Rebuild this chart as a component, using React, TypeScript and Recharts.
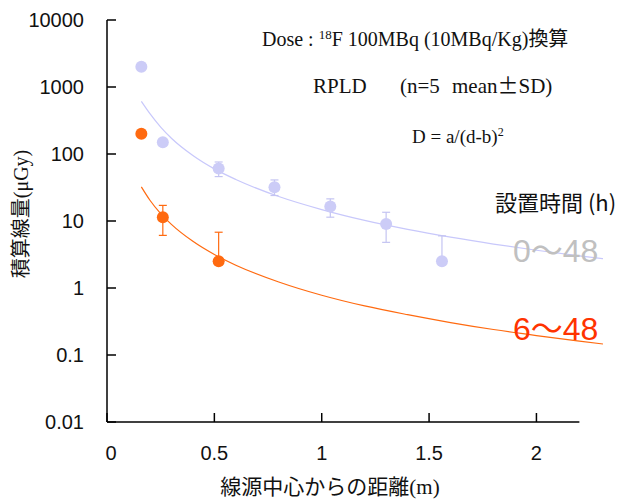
import React from "react"
import { ComposedChart, XAxis, YAxis, Line, Scatter, ErrorBar, ReferenceLine } from "recharts"

// measured points (distance in m, integrated dose in µGy)
const distBlue = [0.16, 0.26, 0.52, 0.78, 1.04, 1.3, 1.56]
const doseBlue = [2000, 150, 61, 32, 16.4, 9.0, 2.5]
const errBlueLow = [0, 0, 15, 8, 5, 4.2, 0]
const errBlueHigh = [0, 0, 15, 9, 5, 4.5, 3.5]

const distOrange = [0.16, 0.26, 0.52]
const doseOrange = [200, 11.4, 2.5]
const errOrangeLow = [0, 5.3, 0]
const errOrangeHigh = [0, 5.7, 4.3]

// fitted curves D = a/(d-b)^2
const fitDist = [0.16, 0.2, 0.25, 0.3, 0.4, 0.5, 0.6, 0.8, 1.0, 1.2, 1.4, 1.6, 1.8, 2.0, 2.2, 2.31]
const fitBlue = [610, 400, 252, 172, 95, 60, 41.7, 23.2, 14.8, 10.2, 7.5, 5.74, 4.53, 3.66, 3.02, 2.74]
const fitOrange = [32.3, 20.4, 12.9, 8.9, 4.97, 3.16, 2.19, 1.23, 0.78, 0.54, 0.4, 0.305, 0.24, 0.195, 0.161, 0.146]

const xTicks = [0, 0.5, 1, 1.5, 2]
const yTicks = [0.01, 0.1, 1, 10, 100, 1000, 10000]

const blueData = distBlue.map((x, i) => ({ x, y: doseBlue[i], err: [errBlueLow[i], errBlueHigh[i]] }))
const orangeData = distOrange.map((x, i) => ({ x, y: doseOrange[i], err: [errOrangeLow[i], errOrangeHigh[i]] }))
const blueFit = fitDist.map((x, i) => ({ x, y: fitBlue[i] }))
const orangeFit = fitDist.map((x, i) => ({ x, y: fitOrange[i] }))

const sans = "'Liberation Sans', Arial, 'Noto Sans CJK JP', sans-serif"
const serif = "'Liberation Serif', 'Times New Roman', 'Noto Sans CJK JP', serif"
const jp = "'Noto Sans CJK JP', sans-serif"

const XTick = (p: any) => (
    <g>
        <line x1={p.x} y1={p.y} x2={p.x} y2={p.y - 9} stroke="#000" strokeWidth={1.5} />
        <text x={p.x + (p.payload.value === 0 ? 4 : 0)} y={p.y + 31} textAnchor="middle" dominantBaseline="central" fontSize={20} fontFamily={sans} fill="#111">
            {p.payload.value}
        </text>
    </g>
)

const YTick = (p: any) => (
    <g>
        <line x1={p.x} y1={p.y} x2={p.x + 9} y2={p.y} stroke="#000" strokeWidth={1.5} />
        <text x={p.x - 23} y={p.y} textAnchor="end" dominantBaseline="central" fontSize={20} fontFamily={sans} fill="#111">
            {p.payload.value}
        </text>
    </g>
)

const Dot = (color: string) => (p: any) => <circle cx={p.cx} cy={p.cy} r={6} fill={color} />

export default function App() {
    return (
        <div style={{ position: "absolute", left: 0, top: 0, width: 624, height: 499, background: "#fff" }}>
            <ComposedChart width={624} height={499} margin={{ top: 20, right: 21, bottom: 0, left: 0 }}>
                <XAxis
                    dataKey="x"
                    type="number"
                    domain={[0, 2.31]}
                    ticks={xTicks}
                    allowDataOverflow
                    axisLine={false}
                    tickLine={false}
                    tickSize={0}
                    tickMargin={0}
                    height={77}
                    tick={XTick}
                />
                <YAxis
                    dataKey="y"
                    scale="log"
                    domain={[0.01, 10000]}
                    ticks={yTicks}
                    allowDataOverflow
                    axisLine={{ stroke: "#000", strokeWidth: 1.5 }}
                    tickLine={false}
                    tickSize={0}
                    tickMargin={0}
                    width={107}
                    tick={YTick}
                />
                <ReferenceLine segment={[{ x: 0, y: 0.01 }, { x: 2.2, y: 0.01 }]} stroke="#000" strokeWidth={1.5} />
                <Line data={blueFit} dataKey="y" type="monotone" stroke="#c8c8fb" strokeWidth={1.2} dot={false} isAnimationActive={false} />
                <Line data={orangeFit} dataKey="y" type="monotone" stroke="#ff6a10" strokeWidth={1.2} dot={false} isAnimationActive={false} />
                <Scatter data={blueData} dataKey="y" shape={Dot("#ccccf7")} isAnimationActive={false}>
                    <ErrorBar dataKey="err" direction="y" width={4} stroke="#c4c4f2" strokeWidth={1.2} />
                </Scatter>
                <Scatter data={orangeData} dataKey="y" shape={Dot("#ff6a10")} isAnimationActive={false}>
                    <ErrorBar dataKey="err" direction="y" width={4} stroke="#ff6a10" strokeWidth={1.2} />
                </Scatter>
            </ComposedChart>
            <svg width={624} height={499} style={{ position: "absolute", left: 0, top: 0, pointerEvents: "none" }}>
                <text x={262} y={46} fontSize={20} fontFamily={serif} fill="#111">
                    Dose : <tspan fontSize={13} dy={-7}>18</tspan>
                    <tspan dy={7}>F 100MBq (10MBq/Kg)</tspan>
                    <tspan fontFamily={jp}>換算</tspan>
                </text>
                <text y={93} fontSize={21} fontFamily={serif} fill="#111">
                    <tspan x={313}>RPLD</tspan>
                    <tspan x={400}>(n=5</tspan>
                    <tspan x={452}>mean</tspan>
                    <tspan fontFamily={jp}>±</tspan>
                    <tspan>SD)</tspan>
                </text>
                <text x={412} y={143} fontSize={19} fontFamily={serif} fill="#111">
                    D = a/(d-b)<tspan fontSize={12} dy={-7}>2</tspan>
                </text>
                <text x={495} y={211} fontSize={22} fontFamily={jp} fill="#111">設置時間 (h)</text>
                <text x={513} y={262} fontSize={32} fontFamily={sans} fill="#c0c0c0">0〜48</text>
                <text x={513} y={340} fontSize={32} fontFamily={sans} fill="#ff3300">6〜48</text>
                <text x={330} y={494} textAnchor="middle" fontSize={21} fontFamily={jp} fill="#111">
                    線源中心からの距離<tspan fontFamily={serif}>(m)</tspan>
                </text>
                <text transform="translate(28,214) rotate(-90)" textAnchor="middle" fontSize={20} fontFamily={jp} fill="#111">
                    積算線量<tspan fontFamily={serif}>(μGy)</tspan>
                </text>
            </svg>
        </div>
    )
}
